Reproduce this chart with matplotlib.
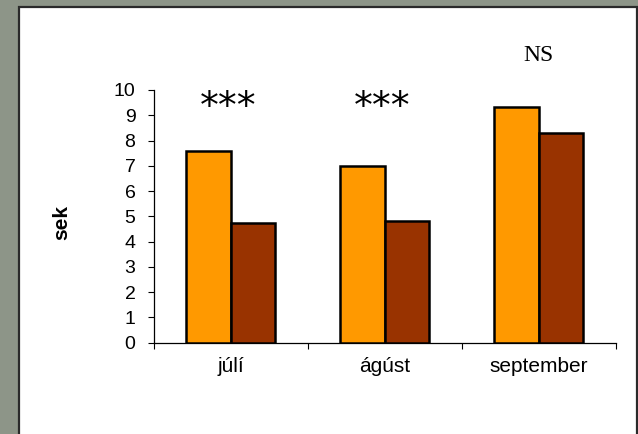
import matplotlib
matplotlib.use("Agg")
import matplotlib.pyplot as plt
from matplotlib.patches import Rectangle
import numpy as np

categories = ["júlí", "ágúst", "september"]
series_a = [7.6, 7.0, 9.33]
series_b = [4.72, 4.83, 8.28]
significance = ["***", "***", "NS"]
y_ticks = [0, 1, 2, 3, 4, 5, 6, 7, 8, 9, 10]

W, H = 638, 434
fig = plt.figure(figsize=(W / 100, H / 100), dpi=100)
fig.patch.set_facecolor("#8d9588")

# white panel with dark edge
panel = Rectangle((18.5 / W, -0.02), (636.5 - 18.5) / W, (H - 6.5) / H + 0.02,
                  transform=fig.transFigure, facecolor="white",
                  edgecolor="#2a2a2a", linewidth=1.6, zorder=-5)
fig.patches.append(panel)

ax = fig.add_axes([153.5 / W, 1 - 342.7 / H, (615.5 - 153.5) / W, (342.7 - 90) / H])
ax.set_facecolor("none")
ax.set_zorder(2)

x = np.arange(len(categories))
bw = 0.286
ax.bar(x - bw / 2, series_a, width=bw, color="#FF9900", edgecolor="black", linewidth=1.8, zorder=3)
ax.bar(x + bw / 2, series_b, width=bw, color="#993300", edgecolor="black", linewidth=1.8, zorder=3)

ax.set_xlim(-0.5, len(categories) - 0.5)
ax.set_ylim(0, 10)
ax.set_yticks(y_ticks)
ax.set_yticklabels([str(t) for t in y_ticks], fontsize=14, family="Liberation Sans")
ax.tick_params(axis="y", direction="out", length=4, width=0.8, pad=9)

ax.set_xticks(np.arange(len(categories) + 1) - 0.5)
ax.set_xticklabels([])
ax.tick_params(axis="x", which="major", direction="out", length=4, width=0.8)
ax.set_xticks(x, minor=True)
ax.set_xticklabels(categories, minor=True, fontsize=15, family="Liberation Sans")
ax.tick_params(axis="x", which="minor", length=0, pad=10)

for s in ["top", "right"]:
    ax.spines[s].set_visible(False)
for s in ["left", "bottom"]:
    ax.spines[s].set_linewidth(0.9)

fig.text(61.5 / W, 1 - 222 / H, "sek", rotation=90, ha="center", va="center",
         fontsize=15, fontweight="bold", family="Liberation Sans")

for i, lab in enumerate(significance):
    if lab == "NS":
        ax.text(i, 11.38, lab, ha="center", va="center", fontsize=17,
                family="Liberation Serif", clip_on=False)
    else:
        ax.text(i - 0.015, 9.3, lab, ha="center", va="center", fontsize=27,
                family="DejaVu Sans", clip_on=False)

fig.savefig("out.png", dpi=100, facecolor=fig.get_facecolor())
